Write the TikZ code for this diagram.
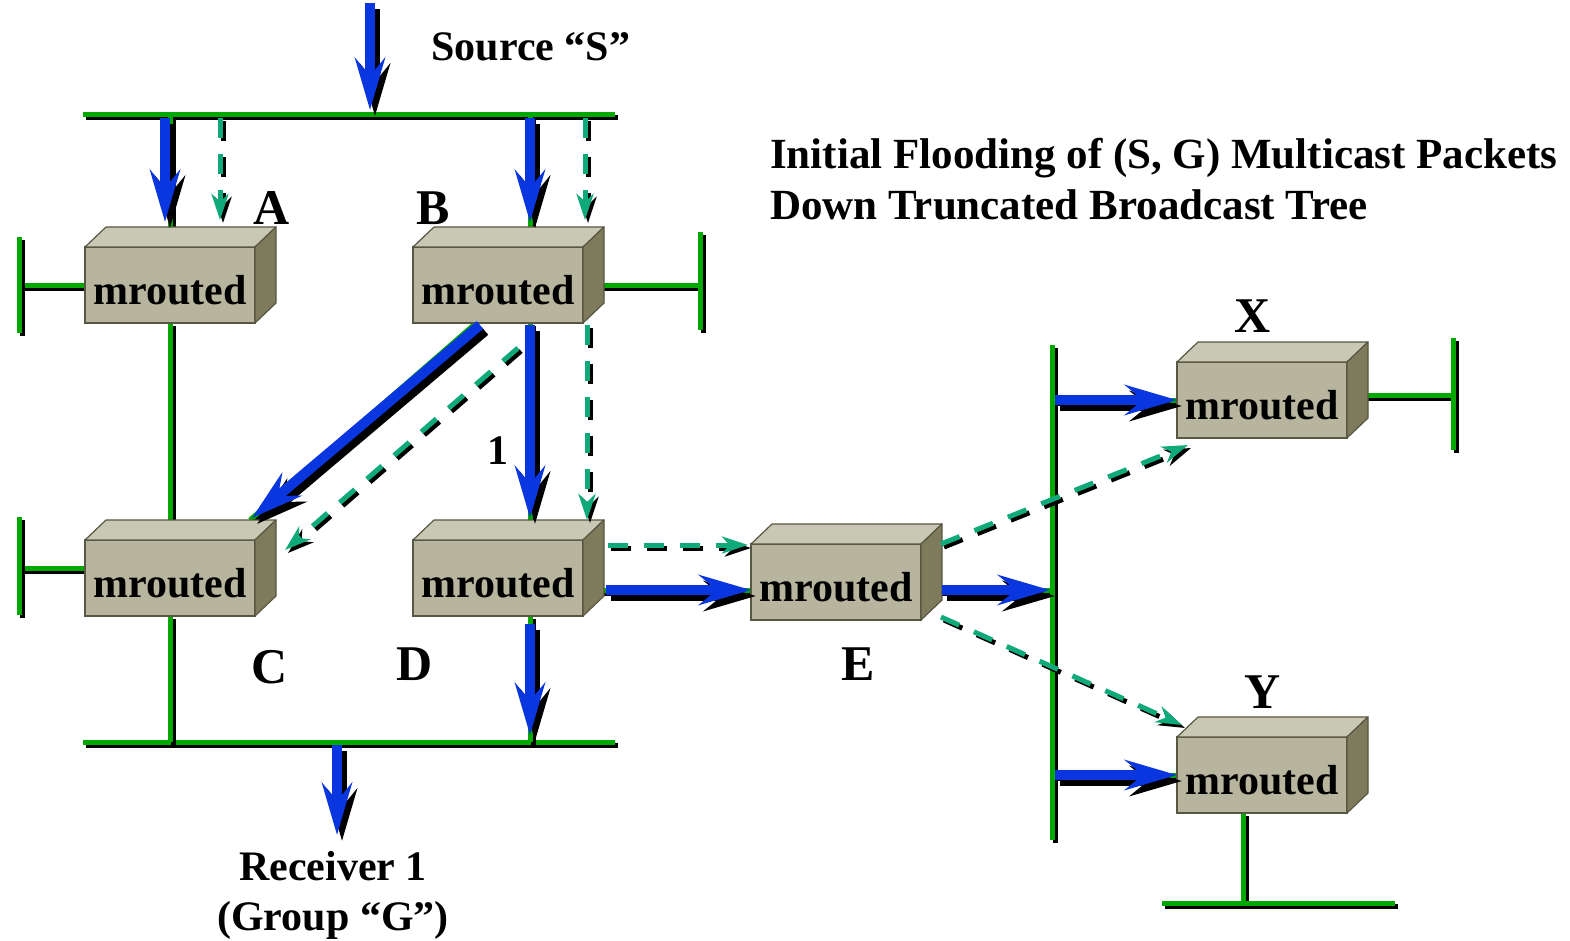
\documentclass[tikz,border=0pt]{standalone}
\usepackage{fontspec}
\setmainfont{Liberation Serif}
\usetikzlibrary{arrows.meta}
\pgfdeclarelayer{wires}
\pgfsetlayers{wires,main}

\definecolor{netgreen}{RGB}{0,168,0}
\definecolor{flowblue}{RGB}{10,54,224}
\definecolor{prunegreen}{RGB}{16,170,122}
\definecolor{boxfront}{RGB}{183,181,158}
\definecolor{boxtop}{RGB}{201,200,180}
\definecolor{boxside}{RGB}{125,123,91}
\definecolor{boxedge}{RGB}{88,87,66}

\tikzset{
  net/.style={draw=netgreen, line width=5pt,
    preaction={draw=black, line width=5pt, transform canvas={xshift=3pt,yshift=-3pt}}},
  flow/.style={draw=flowblue, line width=10pt,
    -{Stealth[length=52pt,width=30pt,inset=18pt]},
    preaction={draw=black, line width=10pt, transform canvas={xshift=5pt,yshift=-6pt}}},
  prune/.style={draw=prunegreen, line width=5pt, dash pattern=on 20pt off 16pt,
    -{Stealth[length=26pt,width=17pt,inset=8pt]},
    preaction={draw=black, line width=5pt, dash pattern=on 20pt off 16pt,
      transform canvas={xshift=3pt,yshift=-3pt}}},
  router/.style={rectangle, draw=boxedge, fill=boxfront, line width=1.2pt,
    minimum width=170pt, minimum height=76pt, inner sep=0pt, outer sep=0pt,
    text height=38pt, text depth=0pt,
    font=\fontsize{42}{48}\selectfont\bfseries},
  face/.style={draw=boxedge, line width=1.2pt, line join=round},
  lab/.style={font=\fontsize{50}{56}\selectfont\bfseries, inner sep=0pt},
  txt/.style={font=\fontsize{42}{48}\selectfont\bfseries, inner sep=0pt},
  title/.style={font=\fontsize{43}{48}\selectfont\bfseries, inner sep=0pt},
}

\begin{document}
\begin{tikzpicture}[x=1pt,y=-1pt]
\useasboundingbox (0,0) rectangle (1570,941);

% routers
\node[router] (A) at (170,285) {mrouted};
\node[router] (B) at (498,285) {mrouted};
\node[router] (C) at (170,578) {mrouted};
\node[router] (D) at (498,578) {mrouted};
\node[router] (E) at (836,582) {mrouted};
\node[router] (X) at (1262,400) {mrouted};
\node[router] (Y) at (1262,775) {mrouted};

% 3-D top and side faces
\foreach \n in {A,B,C,D,E,X,Y}{
  \filldraw[face, fill=boxtop] (\n.north west) -- ([shift={(21,-20)}]\n.north west)
    -- ([shift={(21,-20)}]\n.north east) -- (\n.north east) -- cycle;
  \filldraw[face, fill=boxside] (\n.north east) -- ([shift={(21,-20)}]\n.north east)
    -- ([shift={(21,-20)}]\n.south east) -- (\n.south east) -- cycle;
}

% bus and stub end points
\coordinate (tbL) at (83,115);   \coordinate (tbR) at (615,115);
\coordinate (bbL) at (83,742);   \coordinate (bbR) at (615,742);
\coordinate (rbT) at (1052,345); \coordinate (rbB) at (1052,840);
\coordinate (aStubT) at (19,237);  \coordinate (aStubB) at (19,333);
\coordinate (cStubT) at (19,517);  \coordinate (cStubB) at (19,615);
\coordinate (bStubT) at (700,232); \coordinate (bStubB) at (700,330);
\coordinate (xStubT) at (1453,338); \coordinate (xStubB) at (1453,450);
\coordinate (yBusL) at (1162,903); \coordinate (yBusR) at (1395,903);
\coordinate (src) at (370,3);
\coordinate (rcv) at (337,835);

% attachment points on the routers
\coordinate (bTop) at ([shift={(32,0)}]B.north);
\coordinate (bBot) at ([shift={(32,0)}]B.south);
\coordinate (dTop) at ([shift={(32,0)}]D.north);
\coordinate (dBot) at ([shift={(32,0)}]D.south);
\coordinate (cW) at ([shift={(0,-10)}]C.west);
\coordinate (dE) at ([shift={(0,12)}]D.east);
\coordinate (eE) at ([shift={(0,8)}]E.east);
\coordinate (xE) at ([shift={(0,-5)}]X.east);
\coordinate (yS) at ([shift={(-19,0)}]Y.south);
\coordinate (aArr) at ([shift={(-5,-25)}]A.north);
\coordinate (bArr) at ([shift={(32,-25)}]B.north);
\coordinate (aDash) at ([shift={(50,-27)}]A.north);
\coordinate (bDash) at ([shift={(87,-27)}]B.north);

% network segments
\begin{pgfonlayer}{wires}
\draw[net] (tbL) -- (tbR);
\draw[net] (bbL) -- (bbR);
\draw[net] (A.north |- tbL) -- (A.north);
\draw[net] (bTop |- tbL) -- (bTop);
\draw[net] (A.south) -- (C.north);
\draw[net] (C.south) -- (C.south |- bbL);
\draw[net] (bBot) -- (dTop);
\draw[net] (dBot) -- (dBot |- bbL);
\draw[net] ([shift={(-22,0)}]B.south) -- ([shift={(-5,-20)}]C.north east);
\draw[net] (A.west) -- (A.west -| aStubT);
\draw[net] (aStubT) -- (aStubB);
\draw[net] (cW) -- (cW -| cStubT);
\draw[net] (cStubT) -- (cStubB);
\draw[net] (B.east) -- (B.east -| bStubT);
\draw[net] (bStubT) -- (bStubB);
\draw[net] (dE) -- (dE -| E.west);
\draw[net] (eE) -- (eE -| rbT);
\draw[net] (rbT) -- (rbB);
\draw[net] (rbT |- X.west) -- (X.west);
\draw[net] (xE) -- (xE -| xStubT);
\draw[net] (xStubT) -- (xStubB);
\draw[net] (rbT |- Y.west) -- (Y.west);
\draw[net] (yS) -- (yS |- yBusL);
\draw[net] (yBusL) -- (yBusR);
\end{pgfonlayer}

% pruned (dashed) flooding
\draw[prune, shorten <=3pt] (aDash |- tbL) -- (aDash);
\draw[prune, shorten <=3pt] (bDash |- tbL) -- (bDash);
\draw[prune] ([shift={(20,25)}]B.south) -- ([shift={(30,-28)}]C.east);
\draw[prune] ([shift={(89,2)}]B.south) -- ([shift={(89,-20)}]D.north);
\draw[prune] ([shift={(25,-33)}]D.east) -- ([shift={(-3,-37)}]E.west);
\draw[prune] ([shift={(20,0)}]E.north east) -- ([shift={(11,7)}]X.south west);
\draw[prune] ([shift={(20,-3)}]E.south east) -- ([shift={(5,-12)}]Y.north west);

% multicast packet flow
\draw[flow, shorten >=5pt] (src) -- (src |- tbL);
\draw[flow, shorten <=3pt] (aArr |- tbL) -- (aArr);
\draw[flow, shorten <=3pt] (bArr |- tbL) -- (bArr);
\draw[flow] ([shift={(-18,2)}]B.south) -- ([shift={(-3,-22)}]C.north east);
\draw[flow] ([shift={(32,2)}]B.south) -- ([shift={(32,-22)}]D.north);
\draw[flow, shorten >=7pt] ([shift={(32,8)}]D.south) -- (dBot |- bbL);
\draw[flow, shorten <=3pt] (rcv |- bbL) -- (rcv);
\draw[flow] ([shift={(23,12)}]D.east) -- ([shift={(0,8)}]E.west);
\draw[flow, shorten >=2pt] ([shift={(21,8)}]E.east) -- (eE -| rbT);
\draw[flow, shorten <=3pt] (rbT |- X.west) -- (X.west);
\draw[flow, shorten <=3pt] (rbT |- Y.west) -- (Y.west);

% labels
\node[lab, anchor=base] (lA) at (272,225) {A};
\node[lab, anchor=base] (lB) at (433,225) {B};
\node[lab, anchor=base] (lC) at (270,683) {C};
\node[lab, anchor=base] (lD) at (415,680) {D};
\node[lab, anchor=base] (lE) at (858,680) {E};
\node[lab, anchor=base] (lX) at (1253,332) {X};
\node[lab, anchor=base] (lY) at (1263,708) {Y};
\node[txt, anchor=base] (l1) at (498,464) {1};
\node[txt, anchor=base] (srcl) at (531,61) {Source “S”};
\node[title, anchor=base west] (t1) at (770,169) {Initial Flooding of (S, G) Multicast Packets};
\node[title, anchor=base west] (t2) at (770,220) {Down Truncated Broadcast Tree};
\node[txt, anchor=base] (r1) at (333,880) {Receiver 1};
\node[txt, anchor=base] (r2) at (333,930) {(Group “G”)};
\end{tikzpicture}
\end{document}
